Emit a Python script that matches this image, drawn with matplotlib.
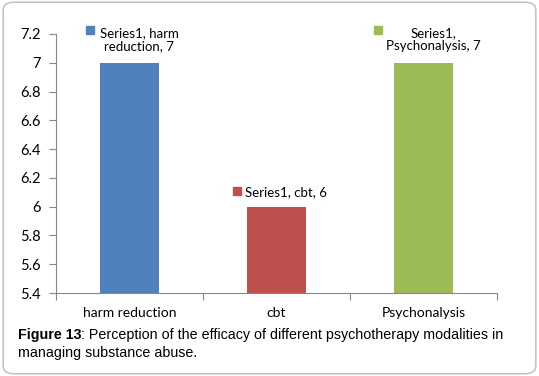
import matplotlib.pyplot as plt
from matplotlib.patches import FancyBboxPatch
from matplotlib.transforms import offset_copy

categories = ["harm reduction", "cbt", "Psychonalysis"]
values = [7, 6, 7]
colors = ["#4F81BD", "#C0504D", "#9BBB59"]
labels = ["Series1, harm\nreduction, 7", "Series1, cbt, 6", "Series1,\nPsychonalysis, 7"]
yticks = [5.4, 5.6, 5.8, 6, 6.2, 6.4, 6.6, 6.8, 7, 7.2]

fig = plt.figure(figsize=(5.39, 3.76), dpi=100)

# rounded border round the whole figure
fig.patches.append(FancyBboxPatch((0.006, 0.006), 0.988, 0.988, boxstyle="round,pad=0,rounding_size=0.02",
                                  transform=fig.transFigure, fill=False, edgecolor="#c4c4c4", linewidth=1.2))

ax = fig.add_axes([0.1039, 0.2207, 0.8182, 0.6889])
x = range(len(categories))
ax.bar(x, values, width=0.4, color=colors)
ax.set_xlim(-0.5, 2.5)
ax.set_ylim(5.4, 7.2)
ax.set_yticks(yticks)
ax.set_yticklabels([("%g" % v) for v in yticks], fontsize=10.5, family="Lato")
ax.set_xticks([-0.5, 0.5, 1.5, 2.5])
ax.set_xticklabels([])
ax.set_xticks(list(x), minor=True)
ax.set_xticklabels(categories, minor=True, fontsize=10, family="Lato")
ax.tick_params(axis="x", which="minor", length=0, pad=10)
ax.tick_params(axis="x", which="major", length=5, direction="out", color="#888888")
ax.tick_params(axis="y", length=5, direction="out", color="#888888", pad=6)
for s in ["top", "right"]:
    ax.spines[s].set_visible(False)
for s in ["left", "bottom"]:
    ax.spines[s].set_color("#888888")

# data labels with colour key squares
sq_dx = [-28.4, -28.4, -33.1]
for i, (v, c, lab) in enumerate(zip(values, colors, labels)):
    two = "\n" in lab
    ax.annotate(lab, (i, v), xytext=(7, 16.6 if two else 10.8), textcoords="offset points",
                ha="center", va="center", fontsize=9.5, family="Lato",
                linespacing=1.15, multialignment="center")
    tr = offset_copy(ax.transData, fig=fig, x=sq_dx[i], y=23.4 if two else 11.2, units="points")
    ax.plot([i], [v], marker="s", markersize=6.3, color=c, transform=tr, clip_on=False, linestyle="none")

t1 = fig.text(0.033, 0.11, "Figure 13", fontsize=10.3, fontweight="bold", family="Liberation Sans", va="center")
ax.annotate(": Perception of the efficacy of different psychotherapy modalities in", xy=(1, 0.5),
            xycoords=t1, va="center", ha="left", fontsize=10.3, family="Liberation Sans")
fig.text(0.033, 0.062, "managing substance abuse.", fontsize=10.3, family="Liberation Sans", va="center")

plt.savefig("out.png", dpi=100)
